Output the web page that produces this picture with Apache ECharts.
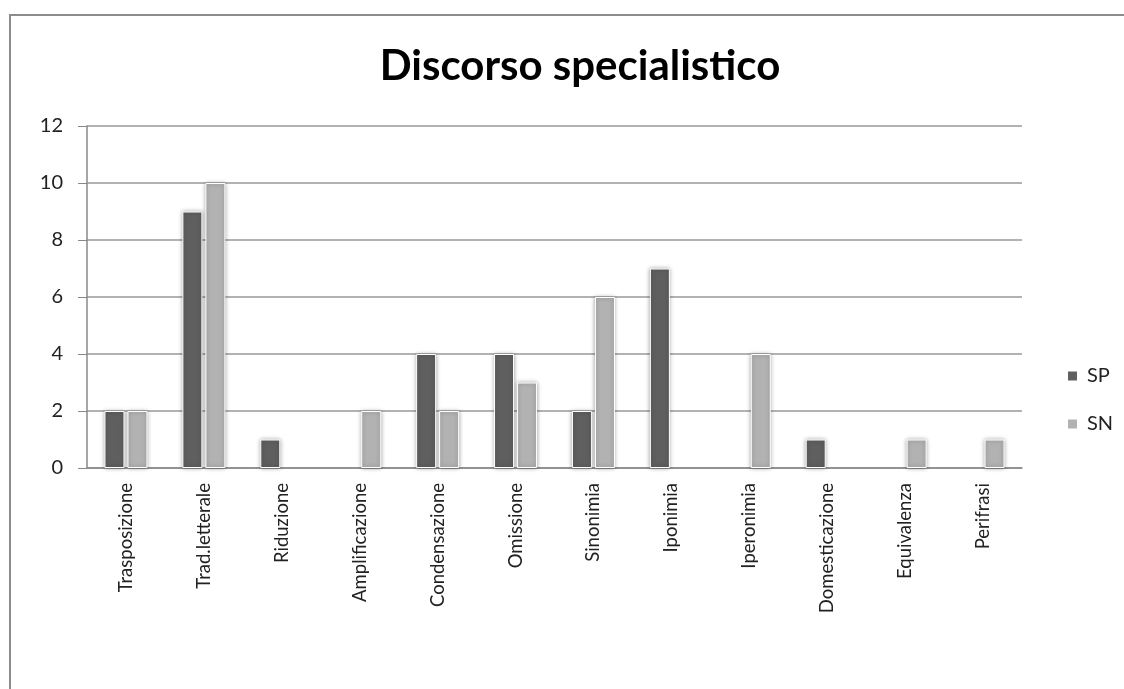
<!DOCTYPE html>
<html>
<head>
<meta charset="utf-8">
<script src="https://cdn.jsdelivr.net/npm/echarts@6/dist/echarts.min.js"></script>
<style>
  html, body { margin: 0; padding: 0; background: #fff; }
  #chart { width: 1124px; height: 689px; }
</style>
</head>
<body>
<div id="chart"></div>
<script>
const categories = ['Trasposizione', 'Trad.letterale', 'Riduzione', 'Amplificazione', 'Condensazione',
  'Omissione', 'Sinonimia', 'Iponimia', 'Iperonimia', 'Domesticazione', 'Equivalenza', 'Perifrasi']
const spValues = [2, 9, 1, 0, 4, 4, 2, 7, 0, 1, 0, 0]
const snValues = [2, 10, 0, 2, 2, 3, 6, 0, 4, 0, 1, 1]
const yTicks = [0, 2, 4, 6, 8, 10, 12]

const font = 'Lato, "Open Sans", sans-serif'
// empty cells in the sheet: no bar at all
const noZero = arr => arr.map(v => (v === 0 ? '-' : v))

const barStyle = color => ({
  color: color,
  borderColor: '#fff',
  borderWidth: 1,
  shadowBlur: 4,
  shadowColor: 'rgba(0,0,0,0.35)'
})

const chart = echarts.init(document.getElementById('chart'))
chart.setOption({
  animation: false,
  backgroundColor: '#fff',
  graphic: [{
    type: 'rect',
    shape: { x: 10, y: 15, width: 1200, height: 800 },
    style: { fill: 'none', stroke: '#8c8c8c', lineWidth: 2 },
    silent: true
  }],
  title: {
    text: 'Discorso specialistico',
    left: 575,
    textAlign: 'center',
    top: 40,
    textStyle: { fontFamily: font, fontSize: 42, fontWeight: 'bold', color: '#000' }
  },
  legend: {
    orient: 'vertical',
    left: 1061,
    top: 361,
    itemWidth: 11,
    itemHeight: 11,
    itemGap: 28,
    icon: 'rect',
    textStyle: { fontFamily: font, fontSize: 20, color: '#222', padding: [0, 0, 0, 4] },
    data: ['SP', 'SN']
  },
  grid: { left: 87, right: 102, top: 126, bottom: 221 },
  xAxis: {
    type: 'category',
    data: categories,
    axisLine: { lineStyle: { color: '#888', width: 1.5 } },
    axisTick: { show: false },
    axisLabel: { rotate: 90, margin: 15, fontFamily: font, fontSize: 18.5, color: '#222' }
  },
  yAxis: {
    type: 'value',
    min: yTicks[0],
    max: yTicks[yTicks.length - 1],
    interval: 2,
    axisLine: { show: true, lineStyle: { color: '#888', width: 1.5 } },
    axisTick: { show: true, length: 9, lineStyle: { color: '#888' } },
    axisLabel: { margin: 24, fontFamily: font, fontSize: 20, color: '#222' },
    splitLine: { lineStyle: { color: '#999', width: 1.5 } }
  },
  series: [
    {
      name: 'SP',
      type: 'bar',
      data: noZero(spValues),
      barWidth: 20,
      barGap: '15%',
      itemStyle: barStyle('#5f5f5f')
    },
    {
      name: 'SN',
      type: 'bar',
      data: noZero(snValues),
      barWidth: 20,
      itemStyle: barStyle('#b2b2b2')
    }
  ]
})
</script>
</body>
</html>
